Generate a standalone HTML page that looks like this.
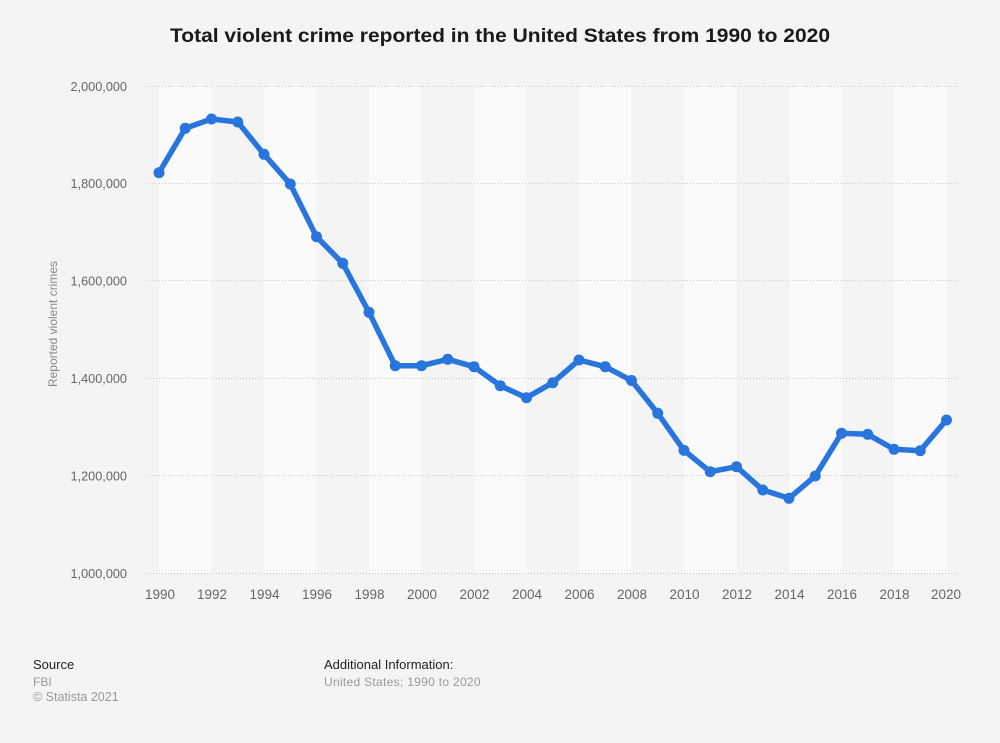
<!DOCTYPE html>
<html>
<head>
<meta charset="utf-8">
<style>
  html, body { margin: 0; padding: 0; background: #f4f4f4; }
  body { width: 1000px; height: 743px; overflow: hidden; }
  svg { display: block; font-family: "Liberation Sans", Arial, sans-serif; }
</style>
</head>
<body>
<svg width="1000" height="743" viewBox="0 0 1000 743" xmlns="http://www.w3.org/2000/svg">
  <rect x="0" y="0" width="1000" height="743" fill="#f4f4f4"/>

  <!-- Title -->
  <text x="500" y="42" text-anchor="middle" font-size="19.5" font-weight="bold" fill="#1a1a1a" textLength="660" lengthAdjust="spacingAndGlyphs">Total violent crime reported in the United States from 1990 to 2020</text>

  <!-- Bands -->
  <g fill="#fafafa">
    <rect x="159" y="86" width="52.5" height="487"/>
    <rect x="264" y="86" width="52.5" height="487"/>
    <rect x="369" y="86" width="52.5" height="487"/>
    <rect x="474" y="86" width="52.5" height="487"/>
    <rect x="579" y="86" width="52.5" height="487"/>
    <rect x="684" y="86" width="52.5" height="487"/>
    <rect x="789" y="86" width="52.5" height="487"/>
    <rect x="894" y="86" width="52.5" height="487"/>
  </g>

  <!-- Gridlines -->
  <g stroke="#c8c8c8" stroke-width="1" stroke-dasharray="1,2">
    <line x1="147" y1="86.5" x2="960" y2="86.5"/>
    <line x1="147" y1="183.5" x2="960" y2="183.5"/>
    <line x1="147" y1="280.5" x2="960" y2="280.5"/>
    <line x1="147" y1="378.5" x2="960" y2="378.5"/>
    <line x1="147" y1="475.5" x2="960" y2="475.5"/>
    <line x1="147" y1="573.5" x2="960" y2="573.5"/>
  </g>

  <!-- Y tick labels -->
  <g font-size="12.7" fill="#666" text-anchor="end">
    <text x="127" y="91">2,000,000</text>
    <text x="127" y="188">1,800,000</text>
    <text x="127" y="285.5">1,600,000</text>
    <text x="127" y="383">1,400,000</text>
    <text x="127" y="480.5">1,200,000</text>
    <text x="127" y="578">1,000,000</text>
  </g>

  <!-- Y axis title -->
  <text x="0" y="0" transform="translate(57,324) rotate(-90)" text-anchor="middle" font-size="12" fill="#888">Reported violent crimes</text>

  <!-- X tick labels -->
  <g font-size="13.5" fill="#666" text-anchor="middle">
    <text x="160" y="599">1990</text>
    <text x="212" y="599">1992</text>
    <text x="264.5" y="599">1994</text>
    <text x="317" y="599">1996</text>
    <text x="369.5" y="599">1998</text>
    <text x="422" y="599">2000</text>
    <text x="474.5" y="599">2002</text>
    <text x="527" y="599">2004</text>
    <text x="579.5" y="599">2006</text>
    <text x="632" y="599">2008</text>
    <text x="684.5" y="599">2010</text>
    <text x="737" y="599">2012</text>
    <text x="789.5" y="599">2014</text>
    <text x="842" y="599">2016</text>
    <text x="894.5" y="599">2018</text>
    <text x="946" y="599">2020</text>
  </g>

  <!-- Series line -->
  <polyline fill="none" stroke="#2876dd" stroke-width="5.5" stroke-linejoin="round" stroke-linecap="round"
    points="159,172.7 185.25,128.3 211.5,119 237.75,122 264,154.3 290.25,184 316.5,236.7 342.75,263.3 369,312.3 395.25,365.7 421.5,365.7 447.75,359.3 474,366.7 500.25,385.7 526.5,397.7 552.75,382.7 579,360 605.25,366.7 631.5,380.5 657.75,413.3 684,450.4 710.25,471.7 736.5,466.7 762.75,490 789,498.3 815.25,476 841.5,433.3 867.75,434.3 894,449.3 920.25,450.7 946.5,420"/>

  <!-- Markers -->
  <g fill="#2876dd">
    <circle cx="159" cy="172.7" r="5.5"/>
    <circle cx="185.25" cy="128.3" r="5.5"/>
    <circle cx="211.5" cy="119" r="5.5"/>
    <circle cx="237.75" cy="122" r="5.5"/>
    <circle cx="264" cy="154.3" r="5.5"/>
    <circle cx="290.25" cy="184" r="5.5"/>
    <circle cx="316.5" cy="236.7" r="5.5"/>
    <circle cx="342.75" cy="263.3" r="5.5"/>
    <circle cx="369" cy="312.3" r="5.5"/>
    <circle cx="395.25" cy="365.7" r="5.5"/>
    <circle cx="421.5" cy="365.7" r="5.5"/>
    <circle cx="447.75" cy="359.3" r="5.5"/>
    <circle cx="474" cy="366.7" r="5.5"/>
    <circle cx="500.25" cy="385.7" r="5.5"/>
    <circle cx="526.5" cy="397.7" r="5.5"/>
    <circle cx="552.75" cy="382.7" r="5.5"/>
    <circle cx="579" cy="360" r="5.5"/>
    <circle cx="605.25" cy="366.7" r="5.5"/>
    <circle cx="631.5" cy="380.5" r="5.5"/>
    <circle cx="657.75" cy="413.3" r="5.5"/>
    <circle cx="684" cy="450.4" r="5.5"/>
    <circle cx="710.25" cy="471.7" r="5.5"/>
    <circle cx="736.5" cy="466.7" r="5.5"/>
    <circle cx="762.75" cy="490" r="5.5"/>
    <circle cx="789" cy="498.3" r="5.5"/>
    <circle cx="815.25" cy="476" r="5.5"/>
    <circle cx="841.5" cy="433.3" r="5.5"/>
    <circle cx="867.75" cy="434.3" r="5.5"/>
    <circle cx="894" cy="449.3" r="5.5"/>
    <circle cx="920.25" cy="450.7" r="5.5"/>
    <circle cx="946.5" cy="420" r="5.5"/>
  </g>

  <!-- Footer -->
  <g font-size="13">
    <text x="33" y="669" fill="#222">Source</text>
    <text x="33" y="686" fill="#999" font-size="12">FBI</text>
    <text x="33" y="701" fill="#999" font-size="12.5">© Statista 2021</text>
    <text x="324" y="669" fill="#222">Additional Information:</text>
    <text x="324" y="686" fill="#999" font-size="12" letter-spacing="0.3">United States; 1990 to 2020</text>
  </g>
</svg>
</body>
</html>
